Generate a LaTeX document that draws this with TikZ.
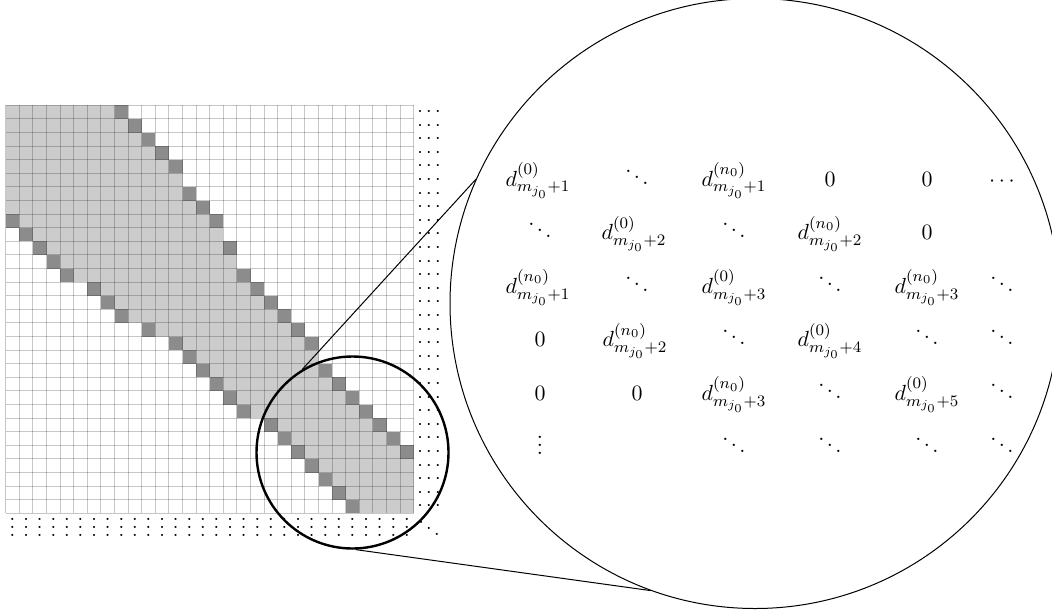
\documentclass[tikz,border=0pt]{standalone}
\usetikzlibrary{calc}
\definecolor{lightc}{gray}{0.8}
\definecolor{darkc}{gray}{0.55}
\begin{document}
\begin{tikzpicture}[x=0.5pt,y=-0.5pt,
  lightcell/.style={fill=lightc},
  darkcell/.style={fill=darkc},
  gridline/.style={draw=black,draw opacity=0.22,line width=0.5pt},
  dotsnode/.style={inner sep=0pt},
  entry/.style={inner sep=0pt,anchor=base,font=\fontsize{10.95}{13}\selectfont},
  conn/.style={draw=black,line width=0.5pt},
  smallcirc/.style={circle,draw=black,very thick,minimum size=96pt,inner sep=0pt},
  bigcirc/.style={circle,draw=black,line width=0.5pt,minimum size=305pt,inner sep=0pt}]
\useasboundingbox (0,0) rectangle (1052,610);
% band of light cells: row/first/last
\foreach \r/\a/\b in {0/0/7,1/0/8,2/0/9,3/0/10,4/0/11,5/0/12,6/0/12,7/0/13,
  8/1/14,9/2/15,10/3/15,11/4/16,12/5/16,13/7/17,14/8/18,15/9/19,16/11/20,
  17/13/21,18/14/22,19/15/22,20/16/23,21/17/24,22/18/25,23/20/26,24/21/27,
  25/22/28,26/23/29,27/24/29,28/25/29,29/26/29}
  \fill[lightcell] ({5.7+13.6*\a},{105.3+13.6*\r}) rectangle ({5.7+13.6*(\b+1)},{105.3+13.6*(\r+1)});
% dark cells: row/col
\foreach \r/\c in {0/8,1/9,2/10,3/11,4/12,6/13,7/14,8/15,10/16,12/17,13/18,14/19,
  15/20,16/21,17/22,19/23,20/24,21/25,22/26,23/27,24/28,25/29,
  8/0,9/1,10/2,11/3,12/4,13/6,14/7,15/8,16/10,17/12,18/13,19/14,20/15,21/16,
  22/17,23/19,24/20,25/21,26/22,27/23,28/24,29/25}
  \fill[darkcell] ({5.7+13.6*\c},{105.3+13.6*\r}) rectangle ({5.7+13.6*(\c+1)},{105.3+13.6*(\r+1)});
% grid
\foreach \i in {0,...,30} {
  \draw[gridline] ({5.7+13.6*\i},105.3) -- ({5.7+13.6*\i},513.3);
  \draw[gridline] (5.7,{105.3+13.6*\i}) -- (413.7,{105.3+13.6*\i});
}
% continuation dots
\foreach \i in {0,...,29} {
  \node[dotsnode] (rdots\i) at (429,{105.3+13.6*(\i+0.5)}) {$\cdots$};
  \node[dotsnode] (bdots\i) at ({5.7+13.6*(\i+0.5)},521) {$\vdots$};
}
\node[dotsnode] (corner) at (429,522) {$\ddots$};
% circles
\node[smallcirc] (small) at (352.5,452.5) {};
\node[bigcirc] (big) at (755,303.5) {};
\draw[conn] (small.121.6) -- (big.156.1);
\draw[conn] (small.-88.5) -- (big.250.8);
% magnified entries
\node[entry] (a11) at (538,186) {$d^{(0)}_{m_{j_0}+1}$};
\node[entry] (a12) at (637,186) {$\ddots$};
\node[entry] (a13) at (734,186) {$d^{(n_0)}_{m_{j_0}+1}$};
\node[entry] (a14) at (830,186) {$0$};
\node[entry] (a15) at (927,186) {$0$};
\node[entry] (a16) at (1002,186) {$\cdots$};
\node[entry] (a21) at (540,239.6) {$\ddots$};
\node[entry] (a22) at (634,239.6) {$d^{(0)}_{m_{j_0}+2}$};
\node[entry] (a23) at (734,239.6) {$\ddots$};
\node[entry] (a24) at (830,239.6) {$d^{(n_0)}_{m_{j_0}+2}$};
\node[entry] (a25) at (927,239.6) {$0$};
\node[entry] (a31) at (538,293.2) {$d^{(n_0)}_{m_{j_0}+1}$};
\node[entry] (a32) at (637,293.2) {$\ddots$};
\node[entry] (a33) at (734,293.2) {$d^{(0)}_{m_{j_0}+3}$};
\node[entry] (a34) at (830,293.2) {$\ddots$};
\node[entry] (a35) at (927,293.2) {$d^{(n_0)}_{m_{j_0}+3}$};
\node[entry] (a36) at (1002,293.2) {$\ddots$};
\node[entry] (a41) at (540,346.8) {$0$};
\node[entry] (a42) at (635,346.8) {$d^{(n_0)}_{m_{j_0}+2}$};
\node[entry] (a43) at (734,346.8) {$\ddots$};
\node[entry] (a44) at (830,346.8) {$d^{(0)}_{m_{j_0}+4}$};
\node[entry] (a45) at (927,346.8) {$\ddots$};
\node[entry] (a46) at (1002,346.8) {$\ddots$};
\node[entry] (a51) at (540,400.4) {$0$};
\node[entry] (a52) at (637,400.4) {$0$};
\node[entry] (a53) at (734,400.4) {$d^{(n_0)}_{m_{j_0}+3}$};
\node[entry] (a54) at (830,400.4) {$\ddots$};
\node[entry] (a55) at (927,400.4) {$d^{(0)}_{m_{j_0}+5}$};
\node[entry] (a56) at (1002,400.4) {$\ddots$};
\node[entry] (a61) at (540,454) {$\vdots$};
\node[entry] (a63) at (734,454) {$\ddots$};
\node[entry] (a64) at (830,454) {$\ddots$};
\node[entry] (a65) at (927,454) {$\ddots$};
\node[entry] (a66) at (1002,454) {$\ddots$};
\end{tikzpicture}
\end{document}
